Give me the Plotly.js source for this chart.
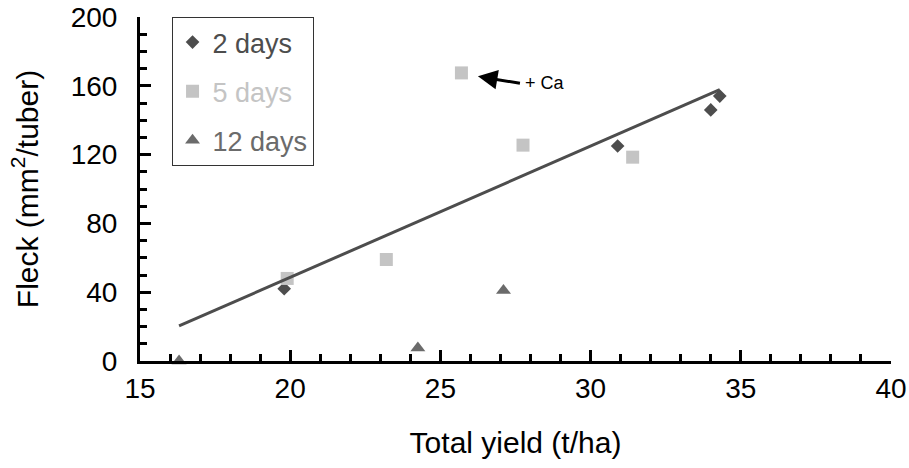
<!DOCTYPE html>
<html>
<head>
<meta charset="utf-8">
<script src="https://cdn.plot.ly/plotly-3.0.1.min.js"></script>
<style>
  html, body { margin: 0; padding: 0; background: #ffffff; }
  #chart { width: 909px; height: 468px; }
</style>
</head>
<body>
<div id="chart"></div>
<script>
// Fleck area vs total yield, by storage duration
const days2X  = [19.8, 30.9, 34.0, 34.3];
const days2Y  = [42, 125, 146, 154];
const days5X  = [19.9, 23.2, 25.7, 27.75, 31.4];
const days5Y  = [48, 59, 167.5, 125.5, 118.5];
const days12X = [16.3, 24.25, 27.1];
const days12Y = [0, 7.5, 41];

// Linear trend line (fleck = slope * yield + intercept)
const trendSlope = 7.636;
const trendIntercept = -104.1;

const seriesNames = ['2 days', '5 days', '12 days'];
const xTicks = [15, 20, 25, 30, 35, 40];
const yTicks = [0, 40, 80, 120, 160, 200];

const FONT = 'Arial, "Liberation Sans", sans-serif';
const C2 = '#4d4d4d', C5 = '#c4c4c4', C12 = '#6b6b6b';

const allX = days2X.concat(days5X, days12X);
const xMin = Math.min(...allX), xMax = Math.max(...allX);
const trendX = [xMin, xMax];
const trendY = trendX.map(v => trendSlope * v + trendIntercept);

const traces = [
  {
    x: days2X, y: days2Y, type: 'scatter', mode: 'markers',
    name: '<span style="color:' + C2 + '">' + seriesNames[0] + '</span>',
    legendgroup: 'a',
    marker: { symbol: 'diamond', size: 10.5, color: C2 },
    cliponaxis: false
  },
  {
    x: days5X, y: days5Y, type: 'scatter', mode: 'markers',
    name: '<span style="color:' + C5 + '">' + seriesNames[1] + '</span>',
    legendgroup: 'b',
    marker: { symbol: 'square', size: 13, color: C5 },
    cliponaxis: false
  },
  {
    x: days12X, y: days12Y, type: 'scatter', mode: 'markers',
    name: '<span style="color:' + C12 + '">' + seriesNames[2] + '</span>',
    legendgroup: 'c',
    marker: { symbol: 'triangle-up', size: 13, color: C12 },
    cliponaxis: false
  },
  {
    x: trendX, y: trendY, type: 'scatter', mode: 'lines',
    showlegend: false, hoverinfo: 'skip',
    line: { color: C2, width: 3 }
  }
];

const layout = {
  width: 909, height: 468,
  margin: { l: 140, r: 18, t: 17, b: 107 },
  paper_bgcolor: '#ffffff', plot_bgcolor: '#ffffff',
  font: { family: FONT, color: '#000000' },
  showlegend: true,
  legend: {
    x: 0.042, y: 1.0, xanchor: 'left', yanchor: 'top',
    bgcolor: '#ffffff', bordercolor: '#333333', borderwidth: 1,
    font: { family: FONT, size: 27 },
    tracegroupgap: 11
  },
  xaxis: {
    range: [15, 40], tickmode: 'array', tickvals: xTicks, ticktext: xTicks.map(String),
    showgrid: false, zeroline: false,
    showline: true, linecolor: '#000000', linewidth: 3,
    ticks: 'inside', ticklen: 11, tickwidth: 3, tickcolor: '#000000',
    minor: { tickmode: 'linear', tick0: 15, dtick: 1, ticks: 'inside', ticklen: 7, tickwidth: 3, tickcolor: '#000000', showgrid: false },
    tickfont: { family: FONT, size: 28, color: '#000000' },
    title: { text: 'Total yield (t/ha)', font: { family: FONT, size: 30, color: '#000000' }, standoff: 30 }
  },
  yaxis: {
    range: [0, 200], tickmode: 'array', tickvals: yTicks, ticktext: yTicks.map(String),
    showgrid: false, zeroline: false,
    showline: true, linecolor: '#000000', linewidth: 3,
    ticks: 'inside', ticklen: 11, tickwidth: 3, tickcolor: '#000000',
    minor: { tickmode: 'linear', tick0: 0, dtick: 10, ticks: 'inside', ticklen: 7, tickwidth: 3, tickcolor: '#000000', showgrid: false },
    tickfont: { family: FONT, size: 28, color: '#000000' },
    ticklabelstandoff: 14,
    title: { text: 'Fleck (mm<sup>2</sup>/tuber)', font: { family: FONT, size: 30, color: '#000000' }, standoff: 24 }
  },
  annotations: [
    {
      x: 26.25, y: 165.5, xref: 'x', yref: 'y',
      text: '+ Ca', showarrow: true,
      xanchor: 'left', yanchor: 'middle',
      ax: 42, ay: 7, axref: 'pixel', ayref: 'pixel',
      borderpad: 4,
      arrowhead: 2, arrowsize: 1.3, arrowwidth: 3, arrowcolor: '#000000',
      font: { family: FONT, size: 18, color: '#000000' }
    }
  ]
};

Plotly.newPlot('chart', traces, layout, { displayModeBar: false, staticPlot: true });
</script>
</body>
</html>
